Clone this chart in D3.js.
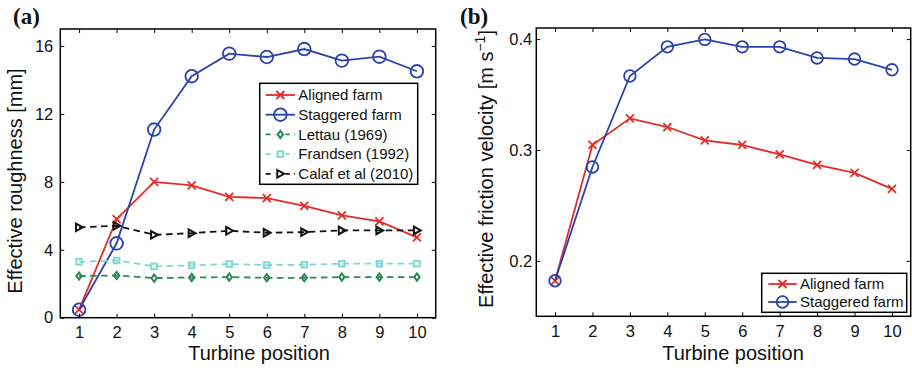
<!DOCTYPE html>
<html>
<head>
<meta charset="utf-8">
<script src="https://cdn.jsdelivr.net/npm/d3@7"></script>
<style>
  html, body { margin: 0; padding: 0; background: #fff; }
  svg { display: block; font-family: "Liberation Sans", Arial, Helvetica, sans-serif; }
</style>
</head>
<body>
<svg id="chart" width="912" height="370"></svg>
<script>
// Turbine positions along the farm
const positions = [1, 2, 3, 4, 5, 6, 7, 8, 9, 10];

// (a) Effective roughness [mm]
const roughAligned   = [0.47, 5.80, 8.00, 7.79, 7.12, 7.04, 6.59, 6.02, 5.67, 4.73];
const roughStaggered = [0.47, 4.38, 11.08, 14.22, 15.55, 15.35, 15.82, 15.14, 15.37, 14.51];
const roughLettau    = [2.45, 2.49, 2.33, 2.37, 2.39, 2.35, 2.35, 2.39, 2.39, 2.39];
const roughFrandsen  = [3.29, 3.37, 3.02, 3.08, 3.16, 3.10, 3.12, 3.18, 3.18, 3.18];
const roughCalaf     = [5.32, 5.41, 4.88, 4.98, 5.12, 5.00, 5.04, 5.14, 5.14, 5.14];

// (b) Effective friction velocity [m s^-1]
const ustarAligned   = [0.182, 0.3045, 0.3285, 0.3207, 0.3087, 0.3045, 0.2960, 0.2865, 0.2793, 0.2649];
const ustarStaggered = [0.182, 0.2847, 0.3667, 0.3930, 0.3997, 0.3930, 0.3930, 0.3830, 0.3820, 0.3723];

// Tick labels
const xTicks = [1, 2, 3, 4, 5, 6, 7, 8, 9, 10];
const roughTicks = [0, 4, 8, 12, 16];
const ustarTicks = [0.2, 0.3, 0.4];

// Series names
const roughNames = ["Aligned farm", "Staggered farm", "Lettau (1969)", "Frandsen (1992)", "Calaf et al (2010)"];
const ustarNames = ["Aligned farm", "Staggered farm"];

const svg = d3.select("#chart");

const COL = {
  red: "#e42d28",
  blue: "#2a42ad",
  green: "#2b8a52",
  cyan: "#7fd9d1",
  black: "#111"
};

const LW = 1.8;

// marker drawing helpers
function drawMarker(g, type, x, y, color, size) {
  if (type === "x") {
    const s = size;
    g.append("path")
      .attr("d", `M${x - s},${y - s}L${x + s},${y + s}M${x - s},${y + s}L${x + s},${y - s}`)
      .attr("stroke", color).attr("stroke-width", LW).attr("fill", "none");
  } else if (type === "o") {
    g.append("circle").attr("cx", x).attr("cy", y).attr("r", size)
      .attr("stroke", color).attr("stroke-width", LW).attr("fill", "none");
  } else if (type === "d") {
    const w = size * 0.75, h = size;
    g.append("path")
      .attr("d", `M${x},${y - h}L${x + w},${y}L${x},${y + h}L${x - w},${y}Z`)
      .attr("stroke", color).attr("stroke-width", 2).attr("fill", "none");
  } else if (type === "s") {
    const s = size;
    g.append("rect").attr("x", x - s).attr("y", y - s).attr("width", 2 * s).attr("height", 2 * s)
      .attr("stroke", color).attr("stroke-width", 2).attr("fill", "none");
  } else if (type === ">") {
    const s = size;
    g.append("path")
      .attr("d", `M${x - s * 0.8},${y - s}L${x + s},${y}L${x - s * 0.8},${y + s}Z`)
      .attr("stroke", color).attr("stroke-width", 2).attr("fill", "none");
  }
}

function panel(cfg) {
  const g = svg.append("g");
  const x = d3.scaleLinear().domain([0.5, 10.5]).range([cfg.left, cfg.right]);
  const y = d3.scaleLinear().domain(cfg.yDomain).range([cfg.bottom, cfg.top]);

  // series
  cfg.series.forEach(s => {
    const pts = positions.map((p, i) => [x(p), y(s.values[i])]);
    g.append("path")
      .attr("d", d3.line()(pts))
      .attr("fill", "none")
      .attr("stroke", s.color)
      .attr("stroke-width", LW)
      .attr("stroke-dasharray", s.dash ? "6.5,4.5" : null);
    const mg = g.append("g");
    pts.forEach(p => drawMarker(mg, s.marker, p[0], p[1], s.color, s.size));
  });

  // axes with inward ticks on all four sides
  const tickLen = 4;
  const axB = g.append("g").attr("transform", `translate(0,${cfg.bottom})`)
    .call(d3.axisBottom(x).tickValues(xTicks).tickSize(-tickLen).tickPadding(9).tickFormat(d3.format("d")));
  const axT = g.append("g").attr("transform", `translate(0,${cfg.top})`)
    .call(d3.axisTop(x).tickValues(xTicks).tickSize(-tickLen).tickFormat(""));
  const axL = g.append("g").attr("transform", `translate(${cfg.left},0)`)
    .call(d3.axisLeft(y).tickValues(cfg.yTicks).tickSize(-tickLen).tickPadding(cfg.yPad).tickFormat(cfg.yFormat));
  const axR = g.append("g").attr("transform", `translate(${cfg.right},0)`)
    .call(d3.axisRight(y).tickValues(cfg.yTicks).tickSize(-tickLen).tickFormat(""));
  [axB, axT, axL, axR].forEach(a => {
    a.select(".domain").remove();
    a.selectAll(".tick line").attr("stroke", "#000").attr("stroke-width", 1);
    a.selectAll(".tick text").attr("font-size", 16.5).attr("fill", "#111")
      .attr("font-family", "'Liberation Sans', Arial, sans-serif");
  });

  // box
  g.append("rect")
    .attr("x", cfg.left).attr("y", cfg.top)
    .attr("width", cfg.right - cfg.left).attr("height", cfg.bottom - cfg.top)
    .attr("fill", "none").attr("stroke", "#000").attr("stroke-width", 1.5);

  // axis titles
  g.append("text")
    .attr("x", cfg.xTitleX).attr("y", 360)
    .attr("text-anchor", "middle").attr("font-size", 20).attr("fill", "#111")
    .text("Turbine position");
  const yt = g.append("text")
    .attr("transform", `translate(${cfg.yTitleX},${cfg.yTitleY}) rotate(-90)`)
    .attr("text-anchor", "middle").attr("font-size", 20).attr("fill", "#111");
  cfg.yTitle(yt);

  // panel label
  g.append("text")
    .attr("x", cfg.labelX).attr("y", 24)
    .attr("font-family", "'Liberation Serif', 'Times New Roman', serif")
    .attr("font-weight", "bold").attr("font-size", 23).attr("fill", "#111")
    .text(cfg.label);

  // legend
  const L = cfg.legend;
  const lg = g.append("g");
  lg.append("rect")
    .attr("x", L.x0).attr("y", L.y0).attr("width", L.x1 - L.x0).attr("height", L.y1 - L.y0)
    .attr("fill", "#fff").attr("stroke", "#000").attr("stroke-width", 1.5);
  cfg.series.forEach((s, i) => {
    const cy = L.firstRow + i * L.step;
    const mx = (L.lineX0 + L.lineX1) / 2;
    lg.append("line")
      .attr("x1", L.lineX0).attr("x2", L.lineX1).attr("y1", cy).attr("y2", cy)
      .attr("stroke", s.color).attr("stroke-width", LW)
      .attr("stroke-dasharray", s.dash ? "5,4.5" : null);
    if (s.dash) {
      // clear the middle so the marker sits between two dashes
      lg.append("line").attr("x1", mx - 5).attr("x2", mx + 5).attr("y1", cy).attr("y2", cy)
        .attr("stroke", "#fff").attr("stroke-width", 3);
    }
    drawMarker(lg, s.marker, mx, cy, s.color, s.size);
    lg.append("text")
      .attr("x", L.textX).attr("y", cy + 5.3)
      .attr("font-size", 15).attr("fill", "#111")
      .text(s.name);
  });
}

// (a) effective roughness
panel({
  left: 60.3, right: 435.7, top: 29, bottom: 317.7,
  yDomain: [0, 17], yTicks: roughTicks, yFormat: d3.format("d"), yPad: 7,
  xTitleX: 259,
  yTitleX: 21.5, yTitleY: 181,
  yTitle: t => t.text("Effective roughness [mm]"),
  label: "(a)", labelX: 13,
  series: [
    { name: roughNames[0], values: roughAligned,   color: COL.red,   marker: "x", size: 4,   dash: false },
    { name: roughNames[1], values: roughStaggered, color: COL.blue,  marker: "o", size: 6.3, dash: false },
    { name: roughNames[2], values: roughLettau,    color: COL.green, marker: "d", size: 3.6, dash: true },
    { name: roughNames[3], values: roughFrandsen,  color: COL.cyan,  marker: "s", size: 2.8, dash: true },
    { name: roughNames[4], values: roughCalaf,     color: COL.black, marker: ">", size: 3.8, dash: true }
  ],
  legend: { x0: 259.7, x1: 417.7, y0: 83.3, y1: 184.3, firstRow: 95, step: 19.7,
            lineX0: 265.7, lineX1: 295, textX: 298.3 }
});

// (b) effective friction velocity
panel({
  left: 536.3, right: 910.7, top: 28, bottom: 316.3,
  yDomain: [0.15, 0.41], yTicks: ustarTicks, yFormat: d3.format(".1f"), yPad: 4,
  xTitleX: 733,
  yTitleX: 493, yTitleY: 169,
  yTitle: t => {
    t.append("tspan").text("Effective friction velocity [m s");
    t.append("tspan").attr("dy", -8).attr("font-size", 14).text("\u22121");
    t.append("tspan").attr("dy", 8).text("]");
  },
  label: "(b)", labelX: 460,
  series: [
    { name: ustarNames[0], values: ustarAligned,   color: COL.red,  marker: "x", size: 4,   dash: false },
    { name: ustarNames[1], values: ustarStaggered, color: COL.blue, marker: "o", size: 5.8, dash: false }
  ],
  legend: { x0: 761.7, x1: 906.7, y0: 273.3, y1: 312.3, firstRow: 284, step: 18,
            lineX0: 768.3, lineX1: 796.7, textX: 800 }
});
</script>
</body>
</html>
